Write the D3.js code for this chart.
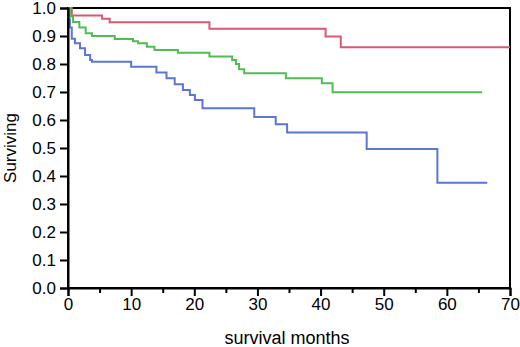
<!DOCTYPE html>
<html><head><meta charset="utf-8">
<script src="https://cdn.jsdelivr.net/npm/d3@7"></script>
<style>
html,body{margin:0;padding:0;background:#fff;}
svg{display:block;}
text{font-family:"Liberation Sans",Arial,sans-serif;fill:#000;}
</style></head>
<body>
<svg id="chart" width="520" height="347"></svg>
<script>
// Kaplan-Meier step data: event times (months) and survival after each step
const redTimes  = [0, 0.6, 5.4, 6.6, 22.4, 40.8, 43.2, 70];
const redSurv   = [1.0, 0.973, 0.962, 0.949, 0.926, 0.898, 0.860, 0.860];

const greenTimes = [0, 0.3, 0.8, 1.8, 2.8, 3.8, 7.4, 10.3, 11.1, 12.5, 13.7, 17.4, 22.4, 26.0, 26.6, 27.1, 27.9, 34.5, 40.2, 41.9, 65.6];
const greenSurv  = [1.0, 0.97, 0.95, 0.93, 0.91, 0.90, 0.889, 0.881, 0.874, 0.862, 0.850, 0.840, 0.827, 0.814, 0.800, 0.781, 0.767, 0.749, 0.731, 0.699, 0.699];

const blueTimes = [0, 0.1, 0.3, 0.6, 1.1, 1.9, 2.7, 3.5, 3.8, 10.0, 14.0, 15.6, 16.9, 18.2, 19.3, 20.1, 21.3, 29.5, 32.9, 34.7, 47.3, 58.5, 66.4];
const blueSurv  = [1.0, 0.96, 0.93, 0.89, 0.874, 0.856, 0.832, 0.814, 0.808, 0.790, 0.770, 0.749, 0.728, 0.707, 0.689, 0.671, 0.642, 0.611, 0.585, 0.555, 0.496, 0.376, 0.376];

const xTicks = [0, 10, 20, 30, 40, 50, 60, 70];
const xMinorTicks = [5, 15, 25, 35, 45, 55, 65];
const yTicks = [0, 0.1, 0.2, 0.3, 0.4, 0.5, 0.6, 0.7, 0.8, 0.9, 1.0];
const xLabel = "survival months";
const yLabel = "Surviving";

const series = [
  {name: "red",   times: redTimes,   surv: redSurv,   color: "#d65a74"},
  {name: "green", times: greenTimes, surv: greenSurv, color: "#4fbd52"},
  {name: "blue",  times: blueTimes,  surv: blueSurv,  color: "#5b76d4"}
];

const svg = d3.select("#chart");
const m = {left: 68, right: 10, top: 8, bottom: 59};
const W = 520, H = 347;
const x = d3.scaleLinear().domain([0, 70]).range([m.left, W - m.right]);
const y = d3.scaleLinear().domain([0, 1]).range([H - m.bottom, m.top]);

// frame (top and right border)
svg.append("rect")
  .attr("x", x(0)).attr("y", y(1))
  .attr("width", x(70) - x(0)).attr("height", y(0) - y(1))
  .attr("fill", "none").attr("stroke", "#000").attr("stroke-width", 2);

// curves
const line = d3.line().x(d => x(d[0])).y(d => y(d[1])).curve(d3.curveStepAfter);
series.forEach(s => {
  const pts = s.times.map((t, i) => [t, s.surv[i]]);
  svg.append("path").datum(pts)
    .attr("d", line)
    .attr("fill", "none")
    .attr("stroke", s.color)
    .attr("stroke-width", 2);
});

// x axis
svg.append("g").attr("transform", `translate(0,${y(0)})`)
  .call(d3.axisBottom(x).tickValues(xTicks).tickFormat(d3.format("d")).tickSize(8).tickPadding(2));
svg.append("g").attr("transform", `translate(0,${y(0)})`)
  .call(d3.axisBottom(x).tickValues(xMinorTicks).tickFormat("").tickSize(5))
  .select(".domain").remove();

// y axis
svg.append("g").attr("transform", `translate(${x(0)},0)`)
  .call(d3.axisLeft(y).tickValues(yTicks).tickFormat(d3.format(".1f")).tickSize(8).tickPadding(4));

svg.selectAll(".domain").attr("stroke", "#000").attr("stroke-width", 2);
svg.selectAll(".tick line").attr("stroke", "#000").attr("stroke-width", 2);
svg.selectAll(".tick text")
  .attr("font-family", "Liberation Sans, Arial, sans-serif")
  .attr("font-size", 17).attr("fill", "#000");

// axis titles
svg.append("text")
  .attr("x", (x(0) + x(70)) / 2 - 2).attr("y", 344)
  .attr("text-anchor", "middle")
  .attr("font-size", 18)
  .text(xLabel);

svg.append("text")
  .attr("transform", `translate(16,${(y(0) + y(1)) / 2}) rotate(-90)`)
  .attr("text-anchor", "middle")
  .attr("font-size", 17)
  .text(yLabel);
</script>
</body></html>
